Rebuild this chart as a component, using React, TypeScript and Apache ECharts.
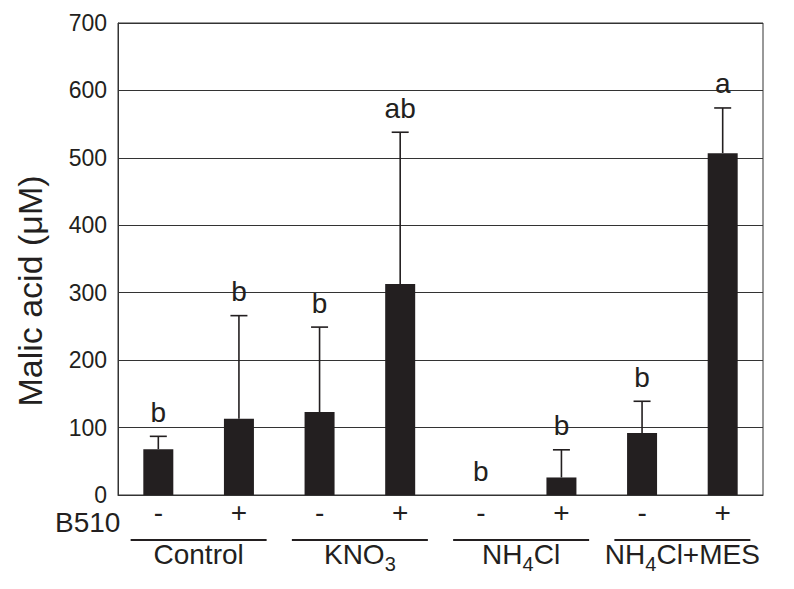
import React, { useEffect, useRef } from 'react';
import * as echarts from 'echarts';

// ---- data ----
const barIds = ['Control-', 'Control+', 'KNO3-', 'KNO3+', 'NH4Cl-', 'NH4Cl+', 'NH4Cl+MES-', 'NH4Cl+MES+'];
const b510 = ['-', '+', '-', '+', '-', '+', '-', '+'];
const means = [68, 113, 123, 313, 0, 26, 92, 507];
const sdUp = [19, 153, 126, 225, 0, 41, 47, 67];
const letters = ['b', 'b', 'b', 'ab', 'b', 'b', 'b', 'a'];
const groups = ['Control', 'KNO3', 'NH4Cl', 'NH4Cl+MES'];
const groupRich = ['{n|Control}', '{n|KNO}{s|3}', '{n|NH}{s|4}{n|Cl}', '{n|NH}{s|4}{n|Cl+MES}'];
const yMin = 0;
const yMax = 700;
const yStep = 100;

const FONT = "'Liberation Sans', Arial, Helvetica, sans-serif";
const INK = '#231f20';

export default function App() {
  const ref = useRef<HTMLDivElement>(null);
  useEffect(() => {
    if (!ref.current) return;
    const chart = echarts.init(ref.current, undefined, { renderer: 'svg' });
    chart.setOption({
      animation: false,
      backgroundColor: '#fff',
      textStyle: { fontFamily: FONT, color: INK },
      grid: {
        left: 118, right: 31, top: 23, bottom: 94,
        show: true, borderColor: '#333', borderWidth: 1, backgroundColor: 'transparent',
      },
      xAxis: {
        type: 'category',
        data: barIds,
        axisLine: { show: true, lineStyle: { color: '#333', width: 1 } },
        axisTick: { show: false },
        axisLabel: {
          formatter: (_v: string, i: number) => b510[i],
          fontSize: 28, color: INK, fontFamily: FONT, margin: 3,
        },
      },
      yAxis: {
        type: 'value',
        min: yMin, max: yMax, interval: yStep,
        axisLine: { show: true, lineStyle: { color: '#333', width: 1 } },
        axisTick: { show: true, inside: true, length: 3, lineStyle: { color: '#333' } },
        axisLabel: { fontSize: 23, color: INK, fontFamily: FONT, margin: 11 },
        splitLine: { show: true, lineStyle: { color: '#333', width: 1 } },
      },
      graphic: [
        {
          type: 'text', x: 30, y: 291, rotation: Math.PI / 2,
          style: { text: 'Malic acid (\u03bcM)', font: `34px ${FONT}`, fill: INK, align: 'center', verticalAlign: 'middle' },
        },
        {
          type: 'text', x: 55, y: 522,
          style: { text: 'B510', font: `28px ${FONT}`, fill: INK, align: 'left', verticalAlign: 'middle' },
        },
      ],
      series: [
        {
          type: 'bar',
          data: means,
          barWidth: 30,
          itemStyle: { color: INK },
          silent: true,
          z: 2,
        },
        {
          type: 'custom',
          silent: true,
          z: 3,
          data: means.map((m, i) => [i, m, sdUp[i]]),
          renderItem: (params: any, api: any) => {
            const i = api.value(0);
            const m = api.value(1);
            const s = api.value(2);
            const p0 = api.coord([i, m]);
            const p1 = api.coord([i, m + s]);
            const children: any[] = [];
            if (s > 0) {
              children.push({
                type: 'line',
                shape: { x1: p0[0], y1: p0[1], x2: p1[0], y2: p1[1] },
                style: { stroke: INK, lineWidth: 1.6 },
              });
              children.push({
                type: 'line',
                shape: { x1: p1[0] - 8.5, y1: p1[1], x2: p1[0] + 8.5, y2: p1[1] },
                style: { stroke: INK, lineWidth: 1.6 },
              });
            }
            children.push({
              type: 'text',
              style: {
                text: letters[params.dataIndex], x: p1[0], y: p1[1] - 10,
                font: `28px ${FONT}`, fill: INK, align: 'center', verticalAlign: 'bottom',
              },
            });
            return { type: 'group', children };
          },
        },
        {
          type: 'custom',
          silent: true,
          clip: false,
          z: 3,
          data: groups.map((_g, g) => [g, 0]),
          renderItem: (params: any, api: any) => {
            const g = params.dataIndex;
            const a = api.coord([2 * g, 0]);
            const b = api.coord([2 * g + 1, 0]);
            const cx = (a[0] + b[0]) / 2;
            const y0 = a[1];
            return {
              type: 'group',
              children: [
                {
                  type: 'line',
                  shape: { x1: cx - 68, y1: y0 + 45, x2: cx + 68, y2: y0 + 45 },
                  style: { stroke: INK, lineWidth: 2 },
                },
                {
                  type: 'text',
                  style: {
                    text: groupRich[g], x: cx, y: y0 + 62,
                    align: 'center', verticalAlign: 'middle',
                    rich: {
                      n: { fontSize: 28, fontFamily: FONT, fill: INK, color: INK, lineHeight: 34, verticalAlign: 'top' },
                      s: { fontSize: 20, fontFamily: FONT, fill: INK, color: INK, lineHeight: 34, verticalAlign: 'bottom' },
                    },
                  },
                },
              ],
            };
          },
        },
      ],
    });
    return () => chart.dispose();
  }, []);
  return <div ref={ref} style={{ position: 'fixed', left: 0, top: 0, width: 794, height: 589 }} />;
}
